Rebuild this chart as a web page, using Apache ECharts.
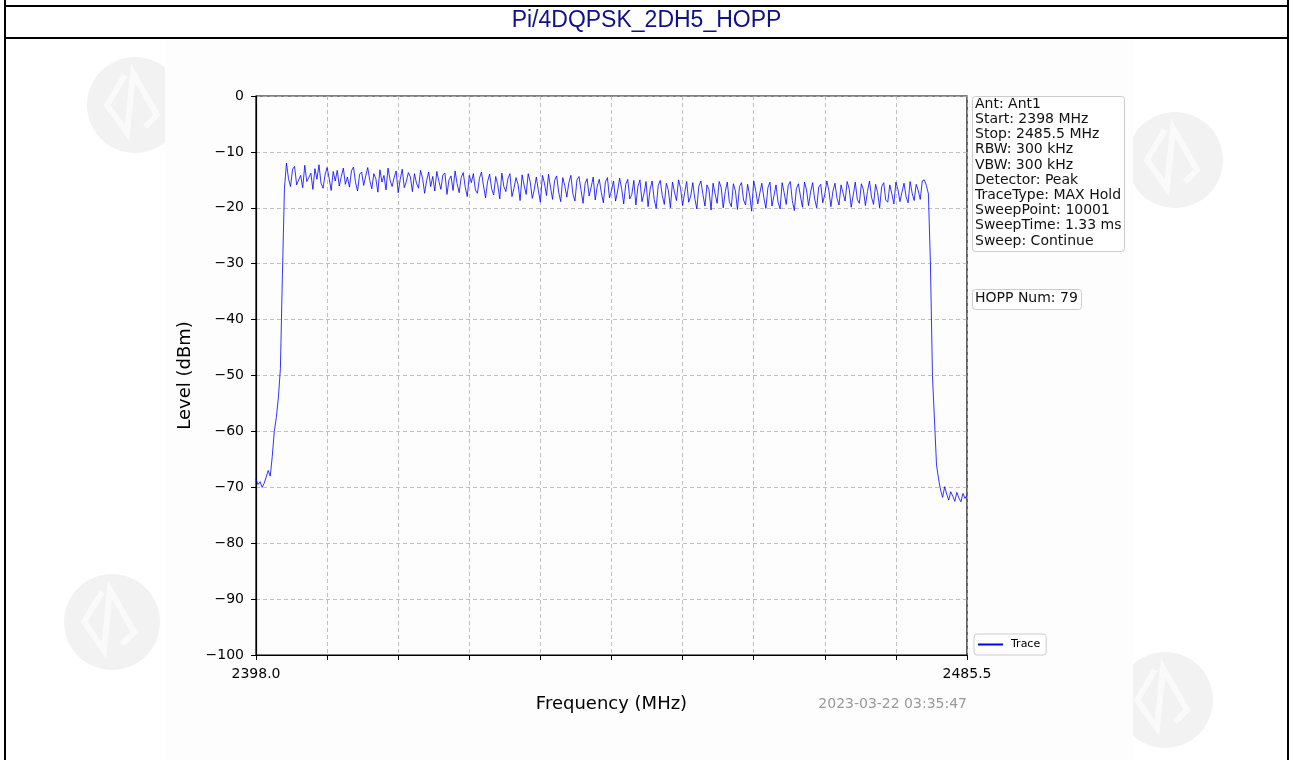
<!DOCTYPE html>
<html>
<head>
<meta charset="utf-8">
<script src="https://cdn.jsdelivr.net/npm/echarts@6/dist/echarts.min.js"></script>
<style>
html,body{margin:0;padding:0;background:#fff;}
#chart{width:1293px;height:760px;}
</style>
</head>
<body>
<div id="chart"></div>
<script>
// ---- data ----
const chartTitle = 'Pi/4DQPSK_2DH5_HOPP';
const startFreq = 2398.0;       // MHz
const stopFreq = 2485.5;        // MHz
const freqStep = 0.25;          // MHz between trace points
const xTickLabels = ['2398.0','','','','','','','','','','2485.5'];
const yTickValues = [0,-10,-20,-30,-40,-50,-60,-70,-80,-90,-100];
const infoLines = ['Ant: Ant1','Start: 2398 MHz','Stop: 2485.5 MHz','RBW: 300 kHz','VBW: 300 kHz','Detector: Peak','TraceType: MAX Hold','SweepPoint: 10001','SweepTime: 1.33 ms','Sweep: Continue'];
const hoppText = 'HOPP Num: 79';
const timestamp = '2023-03-22 03:35:47';
const seriesName = 'Trace';
const levels = [
-68.6,-69.5,-69.0,-70.0,-69.3,-68.2,-67.0,-68.0,-64.5,-60.0,-57.5,-54.0,-48.8,-32.0,-16.5,
-12.0,-14.8,-16.2,-13.1,-12.6,-15.9,-15.0,-14.2,
-16.4,-12.4,-15.3,-14.6,-13.8,-16.7,-13.0,-14.9,
-12.3,-15.6,-16.5,-14.1,-12.8,-14.7,-16.9,-13.5,
-15.2,-13.3,-16.1,-14.4,-12.9,-15.8,-14.5,-16.3,
-13.4,-12.7,-15.5,-17.0,-14.0,-13.6,-16.0,-14.3,
-12.8,-15.1,-16.6,-13.9,-14.8,-17.2,-13.2,-15.4,
-14.2,-16.8,-12.9,-15.0,-16.2,-14.6,-13.4,-17.3,
-14.9,-13.1,-16.4,-15.3,-13.7,-14.5,-17.1,-13.9,
-15.6,-16.5,-13.3,-14.7,-17.4,-15.1,-13.6,-16.2,
-14.4,-17.0,-13.5,-15.2,-16.7,-14.1,-13.8,-17.6,
-15.0,-14.3,-16.9,-13.4,-15.7,-17.3,-14.6,-13.7,
-16.3,-18.0,-14.2,-15.5,-13.9,-16.8,-17.4,-14.7,
-13.6,-16.1,-18.2,-15.3,-14.0,-16.6,-17.7,-14.4,
-15.9,-18.4,-13.8,-16.2,-17.1,-14.8,-13.9,-18.0,
-16.5,-14.6,-15.8,-18.7,-14.1,-16.0,-17.6,-13.9,
-15.4,-18.3,-16.7,-14.5,-16.9,-19.0,-14.2,-15.6,
-17.8,-14.0,-16.4,-18.5,-15.1,-14.3,-17.2,-18.9,
-14.6,-16.0,-18.1,-15.5,-14.2,-17.5,-18.8,-15.0,
-14.4,-16.8,-19.2,-15.7,-14.8,-17.9,-16.3,-14.5,
-18.6,-16.1,-14.9,-17.3,-19.1,-15.4,-14.6,-18.2,
-16.9,-15.2,-18.8,-17.0,-14.7,-16.6,-19.3,-15.8,
-14.9,-18.4,-17.6,-15.1,-19.5,-16.2,-15.0,-18.9,
-17.4,-15.3,-19.8,-16.7,-15.2,-18.5,-20.1,-16.0,
-15.1,-17.8,-19.4,-15.6,-16.9,-20.0,-15.4,-17.2,
-18.7,-15.0,-16.5,-19.6,-17.3,-15.3,-19.0,-17.9,
-15.5,-18.3,-20.2,-16.1,-15.2,-17.6,-19.7,-15.9,
-16.8,-20.4,-15.6,-17.5,-19.2,-15.3,-16.4,-20.0,
-17.1,-15.4,-18.9,-19.8,-15.7,-17.0,-20.3,-16.2,
-15.5,-18.6,-19.5,-15.8,-17.7,-20.6,-15.2,-16.9,
-19.3,-17.4,-15.6,-18.2,-20.1,-16.4,-15.4,-19.7,
-17.8,-15.9,-19.0,-20.2,-15.5,-17.3,-19.4,-16.0,
-15.3,-18.7,-20.5,-16.6,-15.7,-17.9,-19.9,-15.4,
-16.8,-19.6,-17.2,-15.5,-18.4,-20.0,-16.3,-15.8,
-19.1,-17.6,-15.2,-16.9,-19.8,-17.0,-15.6,-18.3,
-19.5,-15.9,-17.4,-18.8,-15.3,-16.6,-19.9,-17.7,
-15.4,-18.5,-19.2,-15.7,-16.8,-19.6,-17.1,-15.2,
-18.1,-19.4,-15.8,-17.3,-20.0,-16.2,-15.5,-18.6,
-19.0,-15.9,-17.5,-19.3,-15.4,-16.7,-18.9,-17.2,
-15.6,-18.0,-19.1,-15.3,-17.4,-18.7,-15.8,-16.9,
-18.5,-15.2,-15.0,-16.0,-17.5,
-30.0,-50.0,-58.0,-66.0,-68.5,
-70.5,-71.8,-69.9,-71.2,-72.3,-70.8,-71.6,-72.5,-70.9,-71.9,-72.6,-71.1,-72.0,-71.4
];

// ---- build ----
const span = stopFreq - startFreq;
const tickInterval = span / (xTickLabels.length - 1);
const traceData = levels.map((v, i) => [i * freqStep, v]);

const FONT = 'DejaVu Sans';
const chart = echarts.init(document.getElementById('chart'), null, {renderer: 'canvas'});

function watermark(cx, cy) {
  return [
    {type: 'circle', z: -20, silent: true, shape: {cx: cx, cy: cy, r: 48}, style: {fill: '#f2f2f2'}},
    {type: 'polyline', z: -19, silent: true, shape: {points: [[cx - 10, cy - 30], [cx - 28, cy], [cx - 8, cy + 28], [cx - 2, cy - 32], [cx + 22, cy + 10], [cx + 10, cy + 22]]},
      style: {stroke: '#fafafa', lineWidth: 6, fill: null}}
  ];
}

const option = {
  animation: false,
  backgroundColor: '#ffffff',
  grid: {left: 256, top: 96, right: 326, bottom: 105, show: true, borderColor: '#000', borderWidth: 1.2, backgroundColor: 'transparent'},
  xAxis: {
    type: 'value', min: 0, max: span, interval: tickInterval,
    name: 'Frequency (MHz)', nameLocation: 'middle', nameGap: 40,
    nameTextStyle: {fontFamily: FONT, fontSize: 18, color: '#000'},
    axisLine: {show: true, onZero: false, lineStyle: {color: '#000', width: 1.2}},
    axisTick: {show: true, length: 5, lineStyle: {color: '#000', width: 1}},
    axisLabel: {
      fontFamily: FONT, fontSize: 14, color: '#000', margin: 12, showMinLabel: true, showMaxLabel: true,
      formatter: (v) => xTickLabels[Math.round(v / tickInterval)] || ''
    },
    splitLine: {show: true, lineStyle: {color: '#b0b0b0', type: [4, 3], width: 0.8}}
  },
  yAxis: {
    type: 'value', min: -100, max: 0, interval: 10,
    name: 'Level (dBm)', nameLocation: 'middle', nameGap: 60, nameRotate: 90,
    nameTextStyle: {fontFamily: FONT, fontSize: 18, color: '#000'},
    axisLine: {show: true, onZero: false, lineStyle: {color: '#000', width: 1.2}},
    axisTick: {show: true, length: 5, lineStyle: {color: '#000', width: 1}},
    axisLabel: {
      fontFamily: FONT, fontSize: 14, color: '#000', margin: 12,
      formatter: (v) => yTickValues.includes(v) ? (v < 0 ? '\u2212' + (-v) : String(v)) : ''
    },
    splitLine: {show: true, lineStyle: {color: '#b0b0b0', type: [4, 3], width: 0.8}}
  },
  legend: {
    data: [seriesName], left: 974, top: 634,
    orient: 'vertical',
    backgroundColor: '#fff', borderColor: '#cccccc', borderWidth: 1, borderRadius: 3,
    padding: [5, 6, 5, 4], itemWidth: 25, itemHeight: 2, itemGap: 4,
    icon: 'rect',
    textStyle: {fontFamily: FONT, fontSize: 11, color: '#000', padding: [0, 0, 0, 3]}
  },
  series: [{
    name: seriesName, type: 'line', data: traceData, showSymbol: false, symbol: 'none',
    lineStyle: {color: '#0000ff', width: 0.8}, itemStyle: {color: '#0000ff'},
    clip: true, z: 5
  }],
  graphic: [].concat(
    watermark(135, 105), watermark(1175, 160), watermark(112, 622), watermark(1165, 700),
    [
    {type: 'rect', z: -15, silent: true, shape: {x: 165, y: 40, width: 968, height: 720}, style: {fill: '#fdfdfd'}},
    // table borders
    {type: 'line', z: 10, shape: {x1: 5, y1: 6, x2: 1288, y2: 6}, style: {stroke: '#000', lineWidth: 2}},
    {type: 'line', z: 10, shape: {x1: 5, y1: 38, x2: 1288, y2: 38}, style: {stroke: '#000', lineWidth: 2}},
    {type: 'line', z: 10, shape: {x1: 5, y1: 0, x2: 5, y2: 760}, style: {stroke: '#000', lineWidth: 2}},
    {type: 'line', z: 10, shape: {x1: 1288, y1: 0, x2: 1288, y2: 760}, style: {stroke: '#000', lineWidth: 2}},
    {type: 'text', z: 10, left: 'center', top: 9,
      style: {text: chartTitle, fontFamily: 'Liberation Sans', fontSize: 23, fill: '#10108a'}},
    // info box
    {type: 'rect', z: 10, shape: {x: 972.5, y: 96.5, width: 152, height: 155, r: 3}, style: {fill: '#fff', stroke: '#cccccc', lineWidth: 1}},
    {type: 'text', z: 11, x: 975, y: 96.5,
      style: {text: infoLines.join('\n'), fontFamily: FONT, fontSize: 14, lineHeight: 15.2, fill: '#111'}},
    // hopp box
    {type: 'rect', z: 10, shape: {x: 972.5, y: 289.5, width: 109, height: 20, r: 3}, style: {fill: '#fff', stroke: '#cccccc', lineWidth: 1}},
    {type: 'text', z: 11, x: 975, y: 291,
      style: {text: hoppText, fontFamily: FONT, fontSize: 14, lineHeight: 15.2, fill: '#111'}},
    // timestamp
    {type: 'text', z: 10, right: 1293 - 967, top: 697,
      style: {text: timestamp, fontFamily: FONT, fontSize: 14, fill: '#999999'}}
    ])
};
chart.setOption(option);
</script>
</body>
</html>
